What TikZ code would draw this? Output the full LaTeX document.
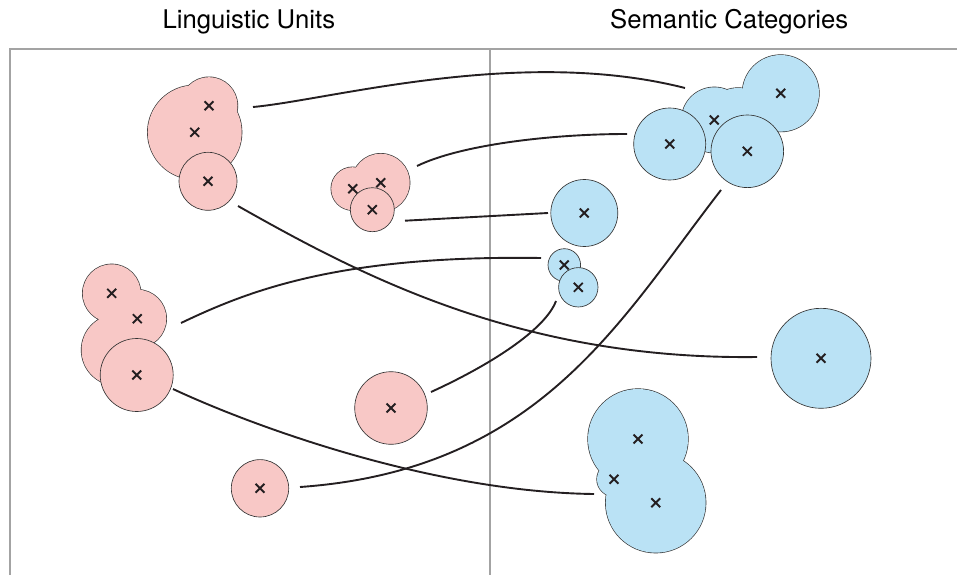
\documentclass[tikz,border=0pt]{standalone}
\usepackage{fontspec}
\setmainfont{TeX Gyre Heros}
\usepackage{tikz}
\usetikzlibrary{shapes.misc}
\def\linkwidth{1.9}
\def\rimwidth{1.3}
\def\frontrim{0.65}
\definecolor{linkblack}{rgb}{0.14,0.12,0.13}
\definecolor{rimgrey}{rgb}{0.2,0.2,0.2}
\definecolor{framegrey}{rgb}{0.64,0.64,0.64}
\definecolor{unitpink}{rgb}{0.973,0.784,0.776}
\definecolor{catblue}{rgb}{0.729,0.886,0.961}

\begin{document}
\begin{tikzpicture}[x = 1pt, y = -1pt,
        xmark/.style={cross out, draw=linkblack, line width=1.9pt, minimum size=7pt, inner sep=0pt}]

            \useasboundingbox (0,0) rectangle (957,575);

            % frame and titles
            \node[anchor=base] (unitstitle) at (248.8,29){\fontsize{25.7}{30}\selectfont Linguistic Units};
            \node[anchor=base] (catstitle) at (729.2,29){\fontsize{25.7}{30}\selectfont Semantic Categories};
            \draw[framegrey, line width=1.5] (10,575) |- (957,49);
            \draw[framegrey, line width=1.5] (490,49) -- (490,575);

            % linguistic units
            \coordinate (la1) at (194.7,132.3);
            \coordinate (la2) at (209,105.7);
            \coordinate (la3) at (208,181.3);
            \coordinate (lb1) at (352.7,188.7);
            \coordinate (lb2) at (380.7,182.7);
            \coordinate (lb3) at (372.3,209.7);
            \coordinate (lc1) at (111.7,293.3);
            \coordinate (lc2) at (137.3,318.7);
            \coordinate (lc3) at (117,350);
            \coordinate (lc4) at (136.7,375);
            \coordinate (ld) at (391,408);
            \coordinate (le) at (260,488.3);

            % semantic categories
            \coordinate (rf1) at (780.7,93.3);
            \coordinate (rf2) at (714.3,120);
            \coordinate (rf3) at (738,122);
            \coordinate (rf4) at (669.7,144);
            \coordinate (rf5) at (747.3,151.3);
            \coordinate (rg) at (584.3,213);
            \coordinate (rh1) at (564.3,265);
            \coordinate (rh2) at (578.3,287.3);
            \coordinate (ri) at (821,358.3);
            \coordinate (rj1) at (638,439);
            \coordinate (rj2) at (614,479.3);
            \coordinate (rj3) at (655.7,502.7);

            % pink blobs
            \draw[rimgrey, line width=\rimwidth] (la1) circle (47) (la2) circle (28.5);
            \fill[unitpink] (la1) circle (47) (la2) circle (28.5);
            \filldraw[fill=unitpink, draw=rimgrey, line width=\frontrim] (la3) circle (29);

            \draw[rimgrey, line width=\rimwidth] (lb1) circle (21.5) (lb2) circle (29);
            \fill[unitpink] (lb1) circle (21.5) (lb2) circle (29);
            \filldraw[fill=unitpink, draw=rimgrey, line width=\frontrim] (lb3) circle (22);

            \draw[rimgrey, line width=\rimwidth] (lc1) circle (29) (lc2) circle (29) (lc3) circle (35.5);
            \fill[unitpink] (lc1) circle (29) (lc2) circle (29) (lc3) circle (35.5);
            \filldraw[fill=unitpink, draw=rimgrey, line width=\frontrim] (lc4) circle (36.5);

            \filldraw[fill=unitpink, draw=rimgrey, line width=\frontrim] (ld) circle (36.3);
            \filldraw[fill=unitpink, draw=rimgrey, line width=\frontrim] (le) circle (28.7);

            % blue blobs
            \draw[rimgrey, line width=\rimwidth] (rf1) circle (38.3) (rf2) circle (32.7) (rf3) circle (34);
            \fill[catblue] (rf1) circle (38.3) (rf2) circle (32.7) (rf3) circle (34);
            \filldraw[fill=catblue, draw=rimgrey, line width=\frontrim] (rf4) circle (36);
            \filldraw[fill=catblue, draw=rimgrey, line width=\frontrim] (rf5) circle (36.3);

            \filldraw[fill=catblue, draw=rimgrey, line width=\frontrim] (rg) circle (33.5);
            \filldraw[fill=catblue, draw=rimgrey, line width=\frontrim] (rh1) circle (16.3);
            \filldraw[fill=catblue, draw=rimgrey, line width=\frontrim] (rh2) circle (19.7);
            \filldraw[fill=catblue, draw=rimgrey, line width=\frontrim] (ri) circle (50);

            \draw[rimgrey, line width=\rimwidth] (rj1) circle (50) (rj2) circle (17) (rj3) circle (50);
            \fill[catblue] (rj1) circle (50) (rj2) circle (17) (rj3) circle (50);

            % centres
            \node[xmark] (xa1) at (la1){};
            \node[xmark] (xa2) at (la2){};
            \node[xmark] (xa3) at (la3){};
            \node[xmark] (xb1) at (lb1){};
            \node[xmark] (xb2) at (lb2){};
            \node[xmark] (xb3) at (lb3){};
            \node[xmark] (xc1) at (lc1){};
            \node[xmark] (xc2) at (lc2){};
            \node[xmark] (xc4) at (lc4){};
            \node[xmark] (xd) at (ld){};
            \node[xmark] (xe) at (le){};
            \node[xmark] (xf1) at (rf1){};
            \node[xmark] (xf2) at (rf2){};
            \node[xmark] (xf4) at (rf4){};
            \node[xmark] (xf5) at (rf5){};
            \node[xmark] (xg) at (rg){};
            \node[xmark] (xh1) at (rh1){};
            \node[xmark] (xh2) at (rh2){};
            \node[xmark] (xi) at (ri){};
            \node[xmark] (xj1) at (rj1){};
            \node[xmark] (xj2) at (rj2){};
            \node[xmark] (xj3) at (rj3){};

            % link ends
            \coordinate (a-out) at (253,107);
            \coordinate (a-low) at (238,206);
            \coordinate (b-up) at (417,166);
            \coordinate (b-out) at (405,220.7);
            \coordinate (c-up) at (181,323);
            \coordinate (c-low) at (173,389);
            \coordinate (d-out) at (431,392);
            \coordinate (e-out) at (300,487);
            \coordinate (f-in) at (685,88);
            \coordinate (f4-in) at (627,134);
            \coordinate (f5-in) at (721,190);
            \coordinate (g-in) at (548,213);
            \coordinate (h1-in) at (541,258);
            \coordinate (h2-in) at (556,301);
            \coordinate (i-in) at (757,357);
            \coordinate (j-in) at (594,494);

            \draw[line width=\linkwidth, color=linkblack] (a-out) .. controls (330,100) and (520,46) .. (f-in);
            \draw[line width=\linkwidth, color=linkblack] (b-up) .. controls (460,145) and (550,134) .. (f4-in);
            \draw[line width=\linkwidth, color=linkblack] (b-out) -- (g-in);
            \draw[line width=\linkwidth, color=linkblack] (a-low) .. controls (360,275) and (520,360) .. (i-in);
            \draw[line width=\linkwidth, color=linkblack] (c-up) .. controls (250,290) and (340,255) .. (h1-in);
            \draw[line width=\linkwidth, color=linkblack] (d-out) .. controls (490,365) and (545,330) .. (h2-in);
            \draw[line width=\linkwidth, color=linkblack] (e-out) .. controls (540,470) and (620,320) .. (f5-in);
            \draw[line width=\linkwidth, color=linkblack] (c-low) .. controls (250,425) and (430,492) .. (j-in);

        \end{tikzpicture}
\end{document}
